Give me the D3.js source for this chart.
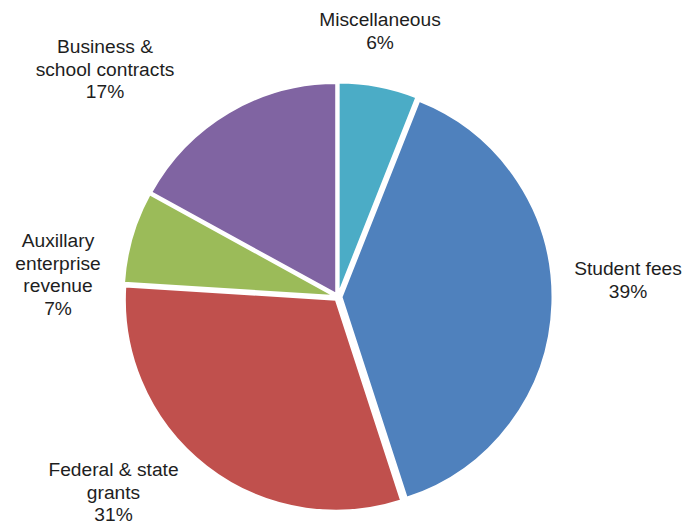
<!DOCTYPE html>
<html>
<head>
<meta charset="utf-8">
<script src="https://cdn.jsdelivr.net/npm/d3@7"></script>
<style>
  html, body { margin: 0; padding: 0; background: #ffffff; }
  svg { display: block; }
</style>
</head>
<body>
<svg id="chart" width="686" height="525"></svg>
<script>
// Revenue sources, listed clockwise from 12 o'clock
const categories = [
  "Miscellaneous",
  "Student fees",
  "Federal & state grants",
  "Auxillary enterprise revenue",
  "Business & school contracts"
];
const shares = [6, 39, 31, 7, 17];
const labelLines = [
  ["Miscellaneous"],
  ["Student fees"],
  ["Federal & state", "grants"],
  ["Auxillary", "enterprise", "revenue"],
  ["Business &", "school contracts"]
];
const colors = ["#4BACC6", "#4F81BD", "#C0504D", "#9BBB59", "#8064A2"];

// Layout
const W = 686, H = 525;
const cx = 338, cy = 297;
const radius = 211;
const explode = 3.5;
const fontSize = 19.2;
const lineHeight = 22.5;
// label anchor (centre x, first baseline) relative to the pie centre
const labelOffsets = [
  [42, -271],
  [290, -22],
  [-224.5, 179],
  [-280, -50],
  [-233, -244]
];

const svg = d3.select("#chart");
const g = svg.append("g").attr("transform", `translate(${cx},${cy})`);

const pie = d3.pie().sort(null).value(d => d.value)
  .startAngle(0).endAngle(2 * Math.PI);
const data = categories.map((c, i) => ({ name: c, value: shares[i], color: colors[i], lines: labelLines[i], off: labelOffsets[i] }));
const arcs = pie(data);

const arc = d3.arc().innerRadius(0).outerRadius(radius);

g.selectAll("path.slice")
  .data(arcs)
  .join("path")
  .attr("class", "slice")
  .attr("d", arc)
  .attr("fill", d => d.data.color)
  .attr("stroke", "#ffffff")
  .attr("stroke-width", 2)
  .attr("stroke-linejoin", "miter")
  .attr("transform", d => {
    const a = (d.startAngle + d.endAngle) / 2;
    return `translate(${explode * Math.sin(a)},${-explode * Math.cos(a)})`;
  });

const total = d3.sum(shares);
const labels = g.selectAll("text.lbl")
  .data(arcs)
  .join("text")
  .attr("class", "lbl")
  .attr("text-anchor", "middle")
  .attr("font-family", "'Liberation Sans', Arial, sans-serif")
  .attr("font-size", fontSize)
  .attr("fill", "#1e1e1e")
  .attr("transform", d => `translate(${d.data.off[0]},${d.data.off[1]})`);

labels.each(function(d) {
  const t = d3.select(this);
  const lines = d.data.lines.concat([Math.round(d.data.value / total * 100) + "%"]);
  lines.forEach((ln, i) => {
    t.append("tspan").attr("x", 0).attr("y", i * lineHeight).text(ln);
  });
});
</script>
</body>
</html>
